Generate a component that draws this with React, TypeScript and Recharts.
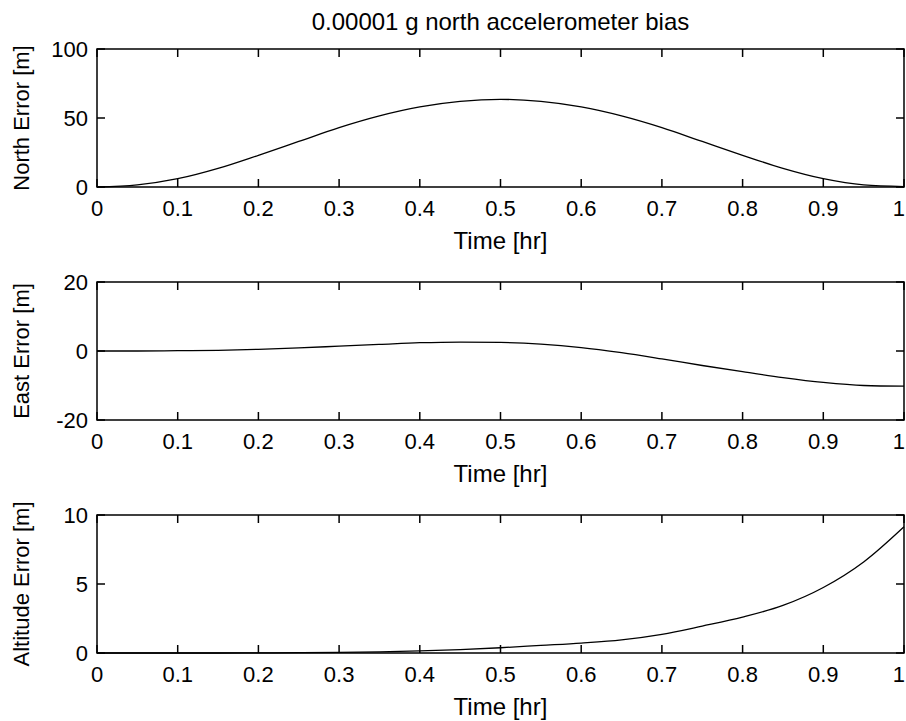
import { LineChart, Line, XAxis, YAxis, ReferenceArea } from 'recharts';

// time axis in hours, sampled every 0.05 hr
const time = [0, 0.05, 0.1, 0.15, 0.2, 0.25, 0.3, 0.35, 0.4, 0.45, 0.5, 0.55, 0.6, 0.65, 0.7, 0.75, 0.8, 0.85, 0.9, 0.95, 1];

const northError = [0, 1.5, 6, 13.5, 23, 33, 43, 51.5, 58, 62, 63.5, 62, 58, 51.5, 43, 33, 23, 13.5, 6, 1.5, 0.3];
const eastError = [0, 0, 0.1, 0.2, 0.5, 0.9, 1.4, 1.9, 2.4, 2.6, 2.5, 2.0, 1.0, -0.5, -2.3, -4.2, -6.0, -7.7, -9.1, -10.0, -10.2];
const altitudeError = [0, 0, 0, 0, 0.01, 0.02, 0.04, 0.08, 0.15, 0.25, 0.38, 0.55, 0.72, 0.95, 1.35, 1.95, 2.6, 3.45, 4.75, 6.6, 9.15];

const timeTicks = [0, 0.1, 0.2, 0.3, 0.4, 0.5, 0.6, 0.7, 0.8, 0.9, 1];
const northTicks = [0, 50, 100];
const eastTicks = [-20, 0, 20];
const altitudeTicks = [0, 5, 10];

const FONT = '"Liberation Sans", Arial, sans-serif';

// plot box inside each panel
const MARGIN = { top: 49, right: 2, bottom: 0, left: 0 };
const Y_AXIS_W = 97;
const X_AXIS_H = 68;
const W = 906;
const H = 255;
const BOX_TOP = MARGIN.top;
const BOX_BOTTOM = H - X_AXIS_H;
const BOX_LEFT = Y_AXIS_W;
const BOX_RIGHT = W - MARGIN.right;
const TICK = 8;

// label + inward tick marks on bottom and top edges
function XTick({ x, y, payload }: any) {
  const c = payload.coordinate;
  // keep the last label ("1") inside the picture
  const atEdge = x + 6 > W;
  return (
    <g>
      <line x1={c} x2={c} y1={BOX_BOTTOM} y2={BOX_BOTTOM - TICK} stroke="#000" strokeWidth={1.5} />
      <line x1={c} x2={c} y1={BOX_TOP} y2={BOX_TOP + TICK} stroke="#000" strokeWidth={1.5} />
      <text x={atEdge ? W - 1 : x} y={y} dy="0.71em" textAnchor={atEdge ? 'end' : 'middle'} fontSize={22} fill="#000">
        {payload.value}
      </text>
    </g>
  );
}

// label + inward tick marks on left and right edges
function YTick({ x, y, payload }: any) {
  const c = payload.coordinate;
  return (
    <g>
      <line x1={BOX_LEFT} x2={BOX_LEFT + TICK} y1={c} y2={c} stroke="#000" strokeWidth={1.5} />
      <line x1={BOX_RIGHT} x2={BOX_RIGHT - TICK} y1={c} y2={c} stroke="#000" strokeWidth={1.5} />
      <text x={x} y={y} dy="0.355em" textAnchor="end" fontSize={22} fill="#000">{payload.value}</text>
    </g>
  );
}

function XLabel({ viewBox }: any) {
  return (
    <text x={viewBox.x + viewBox.width / 2} y={viewBox.y + 62} textAnchor="middle" fontSize={24} fill="#000">
      Time [hr]
    </text>
  );
}

function YLabel({ viewBox, text }: any) {
  const cx = 21;
  const cy = viewBox.y + viewBox.height / 2;
  return (
    <text x={cx} y={cy} transform={`rotate(-90, ${cx}, ${cy})`} textAnchor="middle" dominantBaseline="central" fontSize={22} fill="#000">
      {text}
    </text>
  );
}

function Panel({ top, values, domain, ticks, label }: any) {
  const data = time.map((t, i) => ({ t, v: values[i] }));
  return (
    <div style={{ position: 'absolute', left: 0, top, width: W, height: H }}>
      <LineChart width={W} height={H} data={data} margin={MARGIN}>
        <XAxis
          dataKey="t"
          type="number"
          domain={[0, 1]}
          ticks={timeTicks}
          height={X_AXIS_H}
          axisLine={false}
          tickLine={false}
          tickMargin={7}
          tick={<XTick />}
          interval={0}
          label={<XLabel />}
        />
        <YAxis
          type="number"
          domain={domain}
          ticks={ticks}
          width={Y_AXIS_W}
          axisLine={false}
          tickLine={false}
          tickMargin={3}
          tick={<YTick />}
          interval={0}
          label={<YLabel text={label} />}
        />
        <ReferenceArea x1={0} x2={1} y1={domain[0]} y2={domain[1]} fill="none" fillOpacity={0} stroke="#000" strokeWidth={1.5} />
        <Line type="monotone" dataKey="v" stroke="#000" strokeWidth={1.3} dot={false} isAnimationActive={false} />
      </LineChart>
    </div>
  );
}

export default function App() {
  return (
    <div style={{ position: 'absolute', left: 0, top: 0, width: W, height: 721, background: '#fff', overflow: 'hidden', fontFamily: FONT }}>
      <div style={{ position: 'absolute', left: 97, top: 9, width: 807, textAlign: 'center', fontSize: 24, lineHeight: '26px', color: '#000' }}>
        0.00001 g north accelerometer bias
      </div>
      <Panel top={0} values={northError} domain={[0, 100]} ticks={northTicks} label="North Error [m]" />
      <Panel top={233} values={eastError} domain={[-20, 20]} ticks={eastTicks} label="East Error [m]" />
      <Panel top={466} values={altitudeError} domain={[0, 10]} ticks={altitudeTicks} label="Altitude Error [m]" />
    </div>
  );
}
